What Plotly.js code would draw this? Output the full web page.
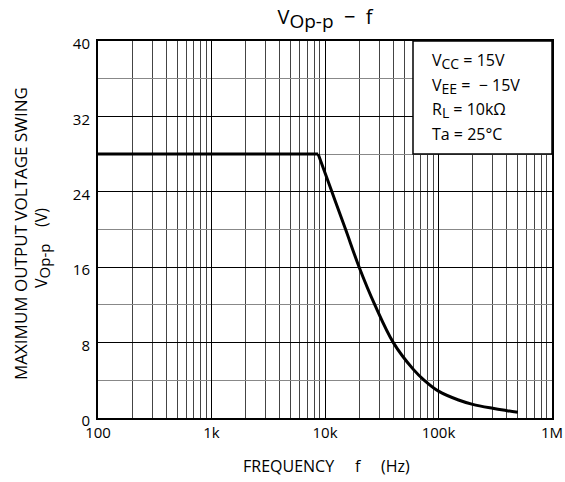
<!DOCTYPE html>
<html>
<head>
<meta charset="utf-8">
<script src="https://cdn.plot.ly/plotly-3.0.1.min.js"></script>
<style>html,body{margin:0;padding:0;background:#fff;}#chart{width:565px;height:482px;}</style>
</head>
<body>
<div id="chart"></div>
<script>
// Frequency (Hz) and maximum output voltage swing (V)
const flatFreq = [100, 8700];
const flatVolt = [28, 28];
const rollFreq = [8700, 11500, 15200, 20000, 27500, 40000, 60000, 75000, 100000, 150000, 200000, 300000, 400000, 500000];
const rollVolt = [28, 24, 20, 16, 12, 8, 5.16, 4.0, 2.85, 1.91, 1.45, 1.03, 0.78, 0.6];

const xTickVals = [100, 1000, 10000, 100000, 1000000];
const xTickText = ["100", "1k", "10k", "100k", "1M"];
const xMinorVals = [200,300,400,500,600,700,800,900,2000,3000,4000,5000,6000,7000,8000,9000,20000,30000,40000,50000,60000,70000,80000,90000,200000,300000,400000,500000,600000,700000,800000,900000];
const yTickVals = [0, 8, 16, 24, 32, 40];
const yMinorVals = [4, 12, 20, 28, 36];

const SUB = (s, px) => "<sub><span style='font-size:" + px + "px'>" + s + "</span></sub>";
const conditions = [
  "V" + SUB("CC", 14) + " = 15V",
  "V" + SUB("EE", 14) + " =  − 15V",
  "R" + SUB("L", 14) + " = 10kΩ",
  "Ta = 25°C"
];

const FONT = "Open Sans, Noto Sans, DejaVu Sans, sans-serif";

const traces = [
  {x: flatFreq, y: flatVolt, mode: "lines", line: {color: "#000", width: 3}, hoverinfo: "skip"},
  {x: rollFreq, y: rollVolt, mode: "lines", line: {color: "#000", width: 3, shape: "spline", smoothing: 1}, hoverinfo: "skip"}
];

const condY = [61, 86, 110, 134];
const annotations = conditions.map((t, i) => ({
  text: t, xref: "paper", yref: "paper",
  x: (430 - 98) / 454, y: (418 - condY[i]) / 377,
  xanchor: "left", yanchor: "middle", showarrow: false,
  font: {family: FONT, size: 16, color: "#000"}
}));
annotations.push({
  text: "MAXIMUM OUTPUT VOLTAGE SWING", xref: "paper", yref: "paper",
  x: (20 - 98) / 454, y: (418 - 234) / 377, xanchor: "center", yanchor: "middle",
  textangle: -90, showarrow: false, font: {family: FONT, size: 17, color: "#000"}
});
annotations.push({
  text: "V" + SUB("Op-p", 15) + "    (V)", xref: "paper", yref: "paper",
  x: (42 - 98) / 454, y: (418 - 248) / 377, xanchor: "center", yanchor: "middle",
  textangle: -90, showarrow: false, font: {family: FONT, size: 16, color: "#000"}
});
annotations.push({
  text: "FREQUENCY     f     (Hz)", xref: "paper", yref: "paper",
  x: (326 - 98) / 454, y: (418 - 466) / 377, xanchor: "center", yanchor: "middle",
  showarrow: false, font: {family: FONT, size: 16, color: "#000"}
});

const layout = {
  width: 565, height: 482,
  margin: {l: 98, r: 13, t: 41, b: 64},
  paper_bgcolor: "#fff", plot_bgcolor: "#fff",
  showlegend: false,
  font: {family: FONT, size: 15, color: "#000"},
  title: {
    text: "V" + SUB("Op-p", 19) + "  −  f",
    x: 0.5, xref: "paper", xanchor: "center",
    y: 1 - 17 / 482, yref: "container", yanchor: "middle",
    font: {family: FONT, size: 20, color: "#000"}
  },
  xaxis: {
    type: "log", range: [2, 6],
    tickmode: "array", tickvals: xTickVals, ticktext: xTickText,
    ticks: "", showgrid: true, gridcolor: "#000", gridwidth: 1,
    minor: {tickmode: "array", tickvals: xMinorVals, showgrid: true, gridcolor: "#444", gridwidth: 1, ticks: ""},
    showline: true, linecolor: "#000", linewidth: 2, mirror: true,
    zeroline: false, tickfont: {family: FONT, size: 15, color: "#000"}
  },
  yaxis: {
    range: [0, 40],
    tickmode: "array", tickvals: yTickVals,
    ticks: "", showgrid: true, gridcolor: "#000", gridwidth: 1,
    minor: {tickmode: "array", tickvals: yMinorVals, showgrid: true, gridcolor: "#888", gridwidth: 1, ticks: ""},
    showline: true, linecolor: "#000", linewidth: 2, mirror: true,
    zeroline: false, ticklabelstandoff: 3, ticklabelshift: 3,
    tickfont: {family: FONT, size: 15, color: "#000"}
  },
  shapes: [{
    type: "rect", xref: "paper", yref: "y",
    x0: (413 - 98) / 454, x1: 1, y0: 28, y1: 40,
    fillcolor: "#fff", line: {color: "#000", width: 1.5}, layer: "above"
  }],
  annotations: annotations
};

Plotly.newPlot("chart", traces, layout, {staticPlot: true, displayModeBar: false});
</script>
</body>
</html>
